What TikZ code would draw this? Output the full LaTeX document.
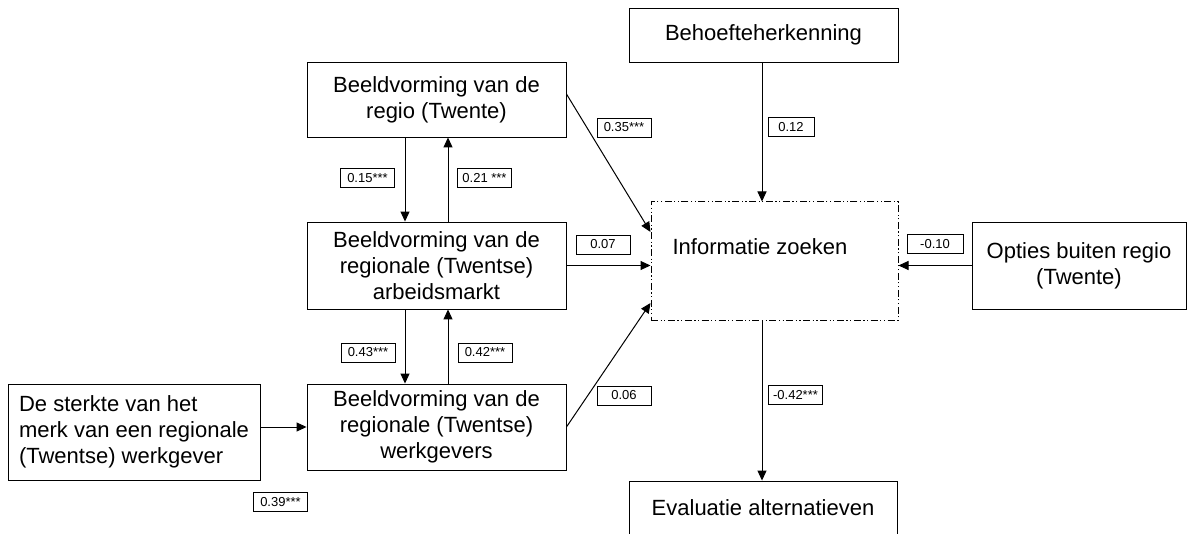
\documentclass[tikz,border=0pt]{standalone}
\usepackage{fontspec}
\setmainfont{Liberation Sans}
\usetikzlibrary{arrows.meta,calc}
\begin{document}
\begin{tikzpicture}[x=1pt,y=-1pt,
  box/.style={draw, line width=0.9pt, inner sep=0pt, align=center,
    font=\fontsize{22}{26}\selectfont},
  lab/.style={draw, line width=0.7pt, inner sep=1pt, minimum height=19pt,
    minimum width=54pt, font=\fontsize{13}{14}\selectfont},
  arr/.style={line width=1pt, -{Triangle[length=10pt,width=9pt]}},
  dashdot/.style={draw, line width=1pt, dash pattern=on 7pt off 2.5pt on 1.2pt off 2.5pt on 1.2pt off 2.5pt}]
\useasboundingbox (0,0) rectangle (1190,534);
\fill[white] (0,0) rectangle (1190,534);

% main boxes
\node[box, minimum width=259pt, minimum height=75pt] (b1) at (436.5,99.5) {Beeldvorming van de\\regio (Twente)};
\node[box, minimum width=259pt, minimum height=87pt] (b2) at (436.5,265.5) {Beeldvorming van de\\regionale (Twentse)\\arbeidsmarkt};
\node[box, minimum width=259pt, minimum height=86pt] (b3) at (436.5,427) {Beeldvorming van de\\regionale (Twentse)\\werkgevers};
\node[box, minimum width=252pt, minimum height=96pt, align=left] (b4) at (134,432) {De sterkte van het\\merk van een regionale\\(Twentse) werkgever};
\node[box, minimum width=269pt, minimum height=54pt] (beh) at (763.5,35) {Behoefteherkenning};
\node[dashdot, minimum width=247pt, minimum height=118pt, inner sep=0pt] (info) at (774.5,261) {};
\node[font=\fontsize{22}{26}\selectfont, inner sep=0pt] (infotext) at (760,247) {Informatie zoeken};
\node[box, minimum width=214pt, minimum height=87pt] (opt) at (1079,265.5) {Opties buiten regio\\(Twente)};
\node[box, minimum width=268pt, minimum height=54pt] (eva) at (763,508) {Evaluatie alternatieven};

% helper coordinates
\coordinate (xl) at (405,0);
\coordinate (xr) at (448,0);
\coordinate (xm) at (762,0);

% connectors
\draw[arr] (b1.south -| xl) -- (b2.north -| xl);
\draw[arr] (b2.north -| xr) -- (b1.south -| xr);
\draw[arr] (b2.south -| xl) -- (b3.north -| xl);
\draw[arr] (b3.north -| xr) -- (b2.south -| xr);
\draw[arr] (b3.west -| b4.east) -- (b3.west);
\draw[arr] ($(b1.east)+(0,-5.5)$) -- ($(info.west)+(0,-29)$);
\draw[arr] (b2.east) -- (b2.east -| info.west);
\draw[arr] (b3.east) -- ($(info.west)+(0,42)$);
\draw[arr] (beh.south -| xm) -- (info.north -| xm);
\draw[arr] (opt.west) -- (opt.west -| info.east);
\draw[arr] (info.south -| xm) -- (eva.north -| xm);

% coefficient labels
\node[lab] (l35) at (624,127.5) {0.35***};
\node[lab, minimum width=46pt] (l12) at (791,127) {0.12};
\node[lab] (l15) at (367.5,178) {0.15***};
\node[lab] (l21) at (484.5,178) {0.21 ***};
\node[lab] (l07) at (603,244.5) {0.07};
\node[lab, minimum width=56pt] (l10) at (935,244) {-0.10};
\node[lab] (l43) at (368,352.5) {0.43***};
\node[lab] (l42) at (485,352.5) {0.42***};
\node[lab] (l06) at (624,395.5) {0.06};
\node[lab] (l42b) at (795.5,395) {-0.42***};
\node[lab] (l39) at (280.5,502) {0.39***};
\end{tikzpicture}
\end{document}
